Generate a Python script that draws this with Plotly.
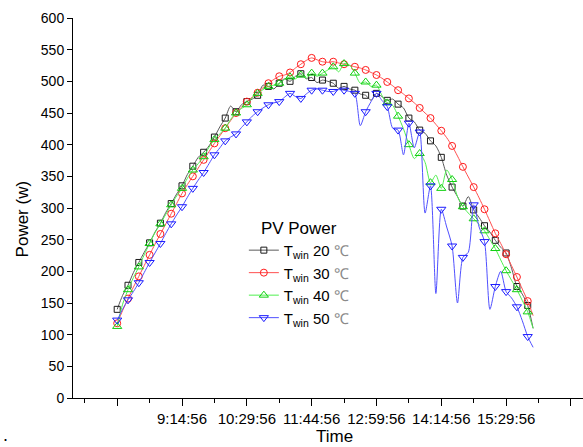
import plotly.graph_objects as go

# Sampling: one reading every 6.25 min starting at 7:59:56, symbol every 2nd reading
start_time = "7:59:56"
step_min = 6.25

# PV power (W) for each window temperature
power_20 = [140, 162, 178, 198, 214, 230, 245, 262, 276, 293,
            307, 322, 335, 353, 366, 380, 388, 398, 412, 428,
            442, 461, 452, 463, 468, 472, 478, 494, 492, 488,
            497, 504, 500, 508, 512, 504, 506, 498, 502, 500,
            497, 489, 492, 488, 486, 480, 478, 470, 481, 476,
            470, 472, 464, 458, 442, 436, 423, 418, 406, 398,
            380, 352, 333, 318, 303, 318, 297, 285, 272, 262,
            249, 238, 229, 205, 176, 164, 146, 110]
power_30 = [118, 138, 157, 175, 192, 209, 226, 243, 259, 275,
            291, 307, 323, 337, 350, 363, 376, 389, 402, 414,
            426, 438, 450, 459, 468, 475, 482, 490, 497, 503,
            508, 510, 514, 521, 527, 533, 537, 534, 531, 530,
            531, 529, 527, 525, 523, 521, 518, 514, 510, 505,
            499, 493, 486, 480, 473, 466, 458, 450, 442, 432,
            422, 411, 398, 382, 365, 349, 333, 316, 298, 279,
            260, 244, 227, 209, 191, 172, 153, 130]
power_40 = [113, 148, 171, 190, 207, 226, 244, 261, 275, 290,
            305, 319, 331, 347, 360, 370, 381, 396, 408, 417,
            426, 440, 450, 457, 463, 474, 481, 487, 492, 494,
            497, 503, 507, 504, 510, 505, 513, 508, 513, 518,
            523, 515, 528, 526, 513, 497, 499, 492, 494, 478,
            466, 462, 445, 425, 400, 378, 386, 372, 340, 352,
            331, 360, 345, 318, 302, 292, 283, 274, 264, 250,
            236, 218, 201, 186, 171, 154, 136, 110]
power_50 = [123, 140, 155, 168, 182, 198, 214, 229, 244, 260,
            275, 289, 302, 317, 331, 344, 356, 370, 384, 395,
            406, 412, 417, 427, 436, 445, 452, 458, 463, 466,
            468, 475, 481, 476, 473, 480, 486, 488, 486, 484,
            484, 487, 486, 484, 481, 430, 452, 468, 481, 470,
            460, 426, 423, 384, 434, 395, 420, 292, 335, 165,
            298, 270, 240, 150, 222, 230, 305, 270, 247, 140,
            176, 200, 168, 158, 144, 122, 97, 80]

series_names = ["20", "30", "40", "50"]
tick_times = ["7:59:56", "9:14:56", "10:29:56", "11:44:56", "12:59:56",
              "14:14:56", "15:29:56", "16:44:56"]
tick_labels = ["", "9:14:56", "10:29:56", "11:44:56", "12:59:56",
               "14:14:56", "15:29:56", ""]


def to_minutes(t):
    h, m, s = (int(p) for p in t.split(":"))
    return h * 60 + m + s / 60.0


t0 = to_minutes(start_time)
times = [t0 + step_min * i for i in range(len(power_20))]
tick_vals = [to_minutes(t) for t in tick_times]

styles = [
    dict(line="#5a5a5a", mark="#1a1a1a", symbol="square-open", size=6),
    dict(line="#ff5050", mark="#ff1a1a", symbol="circle-open", size=7),
    dict(line="#50f050", mark="#10d010", symbol="triangle-up-open", size=8),
    dict(line="#5050ff", mark="#1a1aff", symbol="triangle-down-open", size=8),
]

fig = go.Figure()
for name, ys, st in zip(series_names, [power_20, power_30, power_40, power_50], styles):
    # continuous trace through every reading
    fig.add_trace(go.Scatter(
        x=times, y=ys, mode="lines", showlegend=False, hoverinfo="skip",
        line=dict(color=st["line"], width=1, shape="spline", smoothing=0.7),
    ))
    # symbols on every second reading
    fig.add_trace(go.Scatter(
        x=times[::2], y=ys[::2], mode="markers", showlegend=False,
        marker=dict(symbol=st["symbol"], size=st["size"], color=st["mark"],
                    line=dict(width=1, color=st["mark"])),
    ))
    # legend entry
    fig.add_trace(go.Scatter(
        x=[None], y=[None], mode="lines+markers",
        name="T<sub>win</sub> " + name + " <span style='color:#8a8a8a'>℃</span>",
        line=dict(color=st["line"], width=1),
        marker=dict(symbol=st["symbol"], size=st["size"], color=st["mark"],
                    line=dict(width=1, color=st["mark"])),
    ))

fig.update_layout(
    width=583, height=447,
    margin=dict(l=73, r=0, t=18, b=49),
    paper_bgcolor="white", plot_bgcolor="white",
    font=dict(family="Liberation Sans, Arial, sans-serif", color="#000"),
    xaxis=dict(
        range=[428.8, 1018.9],
        tickmode="array", tickvals=tick_vals, ticktext=tick_labels,
        ticks="outside", ticklen=7, tickwidth=1, tickcolor="#000",
        minor=dict(ticks="outside", ticklen=4, tickwidth=1, tickcolor="#000",
                   tickmode="linear", tick0=tick_vals[0] - 37.5, dtick=37.5),
        showline=True, linecolor="#000", linewidth=1,
        showgrid=False, zeroline=False,
        tickfont=dict(size=15, color="#000"), ticklabelstandoff=0,
    ),
    yaxis=dict(
        range=[0, 600], tickmode="linear", tick0=0, dtick=50,
        ticks="outside", ticklen=5, tickwidth=1, tickcolor="#000",
        showline=True, linecolor="#000", linewidth=1,
        showgrid=False, zeroline=False,
        tickfont=dict(size=14, color="#000"),
    ),
    legend=dict(
        x=0.335, y=0.49, xanchor="left", yanchor="top",
        bgcolor="rgba(0,0,0,0)",
        font=dict(size=15, color="#000"),
        title=dict(text="PV Power", side="top center", font=dict(size=17)),
        tracegroupgap=0, itemwidth=30,
    ),
    annotations=[
        dict(text="Time", x=0.512, y=-0.1, xref="paper", yref="paper",
             showarrow=False, font=dict(size=17), yanchor="middle"),
        dict(text="Power (w)", x=-0.1, y=0.47, xref="paper", yref="paper",
             showarrow=False, font=dict(size=17), textangle=-90,
             xanchor="center", yanchor="middle"),
        dict(text=".", x=-0.142, y=-0.128, xref="paper", yref="paper",
             showarrow=False, font=dict(size=18), yanchor="bottom"),
    ],
)

fig.write_html("out.html")
